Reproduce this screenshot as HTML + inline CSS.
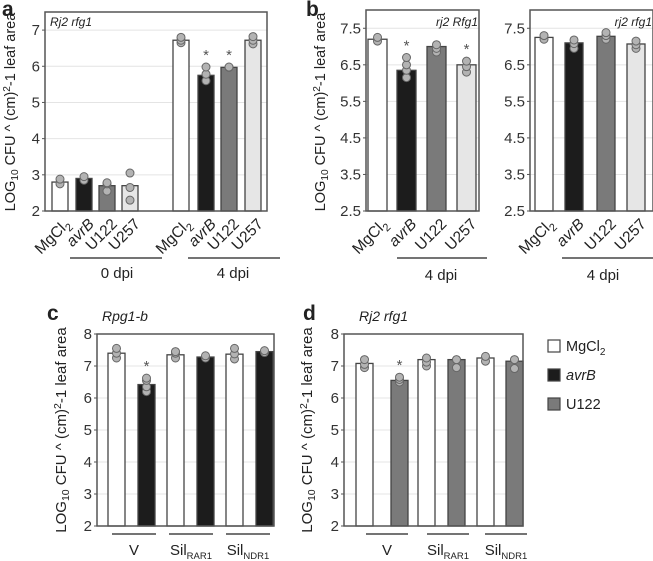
<!DOCTYPE html>
<html><head><meta charset="utf-8">
<style>
html,body{margin:0;padding:0;background:#fff;}
svg{display:block;font-family:"Liberation Sans",Arial,sans-serif;}
</style></head>
<body>
<svg id="fig" width="653" height="561" viewBox="0 0 653 561" xmlns="http://www.w3.org/2000/svg"></svg>
<script>
// ---- data ----
const aCategories = ["MgCl2","avrB","U122","U257","MgCl2","avrB","U122","U257"];
const aValues = [2.8, 2.9, 2.7, 2.7, 6.72, 5.75, 5.97, 6.72];
const aDots = [[2.75,2.88],[2.85,2.95],[2.55,2.75,2.78],[2.3,2.65,3.05],[6.65,6.72,6.8],[5.6,5.78,5.98],[5.97,5.98],[6.62,6.72,6.82]];
const aStars = [false,false,false,false,false,true,true,false];
const aTicks = [2,3,4,5,6,7];

const bCategories = ["MgCl2","avrB","U122","U257"];
const bLeftValues = [7.2, 6.35, 7.0, 6.5];
const bLeftDots = [[7.15,7.25],[6.15,6.35,6.5,6.7],[6.85,6.95,7.05],[6.3,6.45,6.6]];
const bLeftStars = [false,true,false,true];
const bRightValues = [7.25, 7.1, 7.28, 7.07];
const bRightDots = [[7.2,7.3],[6.95,7.08,7.18],[7.2,7.3,7.38],[6.95,7.05,7.15]];
const bTicks = [2.5,3.5,4.5,5.5,6.5,7.5];

const cValues = [7.4, 6.42, 7.35, 7.28, 7.37, 7.45];
const cDots = [[7.25,7.4,7.55],[6.2,6.35,6.55,6.62],[7.25,7.4,7.45],[7.25,7.32],[7.22,7.38,7.55],[7.42,7.48]];
const cStars = [false,true,false,false,false,false];
const dValues = [7.08, 6.55, 7.2, 7.2, 7.25, 7.15];
const dDots = [[6.95,7.05,7.2],[6.5,6.58,6.65],[7.0,7.12,7.25],[6.95,7.2],[7.15,7.3],[6.92,7.2]];
const dStars = [false,true,false,false,false,false];
const cdTicks = [2,3,4,5,6,7,8];
const cdGroups = ["V","Sil","Sil"];
const cdGroupSubs = ["","RAR1","NDR1"];

const NS="http://www.w3.org/2000/svg";
const svg=document.getElementById('fig');
function mk(tag,attrs,parent,text){const e=document.createElementNS(NS,tag);for(const k in attrs)e.setAttribute(k,attrs[k]);if(text!==undefined)e.textContent=text;(parent||svg).appendChild(e);return e;}

function panel(o){
  const g=mk('g',{});
  
  
  const y=v=>o.y1-(v-o.vmin)/(o.vmax-o.vmin)*(o.y1-o.y0);
  o.ticks.forEach((t,i)=>{
    if(y(t)>o.y0+1 && y(t)<o.y1-1){
      const l=mk('line',{x1:o.x0,x2:o.x1,y1:y(t),y2:y(t),stroke:'#e4e4e4','stroke-width':1},g);
      
      
    }
    if(o.tickLabels){
      const tx=mk('text',{x:o.x0-5,y:y(t)+5,'text-anchor':'end','font-size':15,fill:'#333'},g,String(t));
      
      
    }
    const tk=mk('line',{x1:o.x0-3,x2:o.x0,y1:y(t),y2:y(t),stroke:'#555','stroke-width':1},g);
    
    
  });
  o.values.forEach((v,i)=>{
    const bx=o.barX[i];
    const r=mk('rect',{x:bx,y:y(v),width:o.bw,height:o.y1-y(v),fill:o.colors[i],stroke:'#444','stroke-width':1.3},g);
    
    
    (o.dots[i]||[]).forEach(d=>{
      const c=mk('circle',{cx:bx+o.bw/2,cy:y(d),r:4,fill:'#b3b3b3',stroke:'#666','stroke-width':1},g);
      
      
    });
    if(o.stars && o.stars[i]){
      const top=Math.max(...o.dots[i],v);
      const s=mk('text',{x:bx+o.bw/2,y:y(top)-7,'text-anchor':'middle','font-size':15,fill:'#555'},g,'*');
      
      
    }
  });
  const f=mk('rect',{x:o.x0,y:o.y0,width:o.x1-o.x0,height:o.y1-o.y0,fill:'none',stroke:'#555','stroke-width':1.5},g);
  
  
  if(o.cats){
    o.cats.forEach((c,i)=>{
      const cx=o.barX[i]+o.bw/2+6, cy=o.y1+9;
      const t=mk('text',{x:cx,y:cy+7,'text-anchor':'end','font-size':15.5,fill:'#222',transform:`rotate(-45 ${cx} ${cy})`},g);
      
      
      if(c==='MgCl2'){t.appendChild(document.createTextNode('MgCl'));mk('tspan',{'font-size':11,dy:4},t,'2');}
      else if(c==='avrB'){mk('tspan',{'font-style':'italic'},t,'avrB');}
      else t.textContent=c;
    });
  }
  return g;
}
function ylabel(x,cy,size){
  const t=mk('text',{x:x,y:cy,'text-anchor':'middle','font-size':size,fill:'#222',transform:`rotate(-90 ${x} ${cy})`});
  
  
  t.appendChild(document.createTextNode('LOG'));
  mk('tspan',{'font-size':size*0.7,dy:3},t,'10');
  mk('tspan',{dy:-3},t,' CFU ^ (cm)');
  mk('tspan',{'font-size':size*0.7,dy:-5},t,'2');
  mk('tspan',{dy:5},t,'-1 leaf area');
}
function hline(x1,x2,yy,name){const l=mk('line',{x1,x2,y1:yy,y2:yy,stroke:'#222','stroke-width':1.2});}
function label(x,yy,txt,size,extra,name){const t=mk('text',Object.assign({x,y:yy,'font-size':size,fill:'#222'},extra||{}),svg,txt);return t;}

const W='#ffffff',K='#1c1c1c',G='#7a7a7a',L='#e6e6e6';
panel({name:'panel-a',x0:45,x1:267,y0:12,y1:211,vmin:2,vmax:7.5,ticks:aTicks,tickLabels:true,
  values:aValues,dots:aDots,stars:aStars,bw:16,barX:[52,76,99,122,173,198,221,245],
  colors:[W,K,G,L,W,K,G,L],cats:aCategories});
ylabel(15,112,14.5);
label(2,16,'a',21,{'font-weight':'bold'},'panel-letter-a');
label(50,26,'Rj2 rfg1',12,{'font-style':'italic'},'genotype-label-a');
hline(70,162,258,'group-line-0dpi');hline(188,280,258,'group-line-4dpi');
label(117,278,'0 dpi',15,{'text-anchor':'middle'},'group-label-0dpi');
label(233,278,'4 dpi',15,{'text-anchor':'middle'},'group-label-4dpi');
panel({name:'panel-b-left',x0:366,x1:479,y0:10,y1:211,vmin:2.5,vmax:8.0,ticks:bTicks,tickLabels:true,
  values:bLeftValues,dots:bLeftDots,stars:bLeftStars,bw:19,barX:[368,397,427,457],
  colors:[W,K,G,L],cats:bCategories});
label(478,26,'rj2 Rfg1',12,{'font-style':'italic','text-anchor':'end'},'genotype-label-b-left');
panel({name:'panel-b-right',x0:530,x1:653,y0:10,y1:211,vmin:2.5,vmax:8.0,ticks:bTicks,tickLabels:true,
  values:bRightValues,dots:bRightDots,bw:18,barX:[535,565,597,627],
  colors:[W,K,G,L],cats:bCategories});
label(652,26,'rj2 rfg1',12,{'font-style':'italic','text-anchor':'end'},'genotype-label-b-right');
ylabel(325,112,14.5);
label(306,16,'b',21,{'font-weight':'bold'},'panel-letter-b');
hline(397,487,258,'group-line-b-left');hline(562,653,258,'group-line-b-right');
label(441,280,'4 dpi',15,{'text-anchor':'middle'},'group-label-b-left');
label(603,280,'4 dpi',15,{'text-anchor':'middle'},'group-label-b-right');
panel({name:'panel-c',x0:97,x1:274,y0:334,y1:526,vmin:2,vmax:8,ticks:cdTicks,tickLabels:true,
  values:cValues,dots:cDots,stars:cStars,bw:17,barX:[108,138,167,197,226,256],colors:[W,K,W,K,W,K]});
ylabel(66,430,15);
label(47,320,'c',21,{'font-weight':'bold'},'panel-letter-c');
label(102,321,'Rpg1-b',14,{'font-style':'italic'},'genotype-label-c');
panel({name:'panel-d',x0:344,x1:523,y0:334,y1:526,vmin:2,vmax:8,ticks:cdTicks,tickLabels:true,
  values:dValues,dots:dDots,stars:dStars,bw:17,barX:[356,391,418,448,477,506],colors:[W,G,W,G,W,G]});
ylabel(312,430,15);
label(303,320,'d',21,{'font-weight':'bold'},'panel-letter-d');
label(359,321,'Rj2 rfg1',14,{'font-style':'italic'},'genotype-label-d');
const cLines=[[112,156],[169,213],[226,270]], dLines=[[366,408],[427,469],[485,527]];
[cLines,dLines].forEach((ls,p)=>{
  ls.forEach((lr,i)=>{
    hline(lr[0],lr[1],534,'group-line-'+(p?'d':'c')+'-'+i);
    const t=label((lr[0]+lr[1])/2,555,cdGroups[i],15,{'text-anchor':'middle'},'group-label');
    if(cdGroupSubs[i]) mk('tspan',{'font-size':9.5,dy:4},t,cdGroupSubs[i]);
  });
});
const legNames=['MgCl','avrB','U122'], legColors=[W,K,G];
legNames.forEach((n,i)=>{
  const yy=346+i*29;
  const r=mk('rect',{x:548,y:yy-6,width:12,height:12,fill:legColors[i],stroke:'#444','stroke-width':1.2});
  
  
  const t=label(566,yy+5,n,14.5,i===1?{'font-style':'italic'}:{},'legend-entry');
  if(i===0) mk('tspan',{'font-size':10,dy:4},t,'2');
});
</script>
</body></html>
